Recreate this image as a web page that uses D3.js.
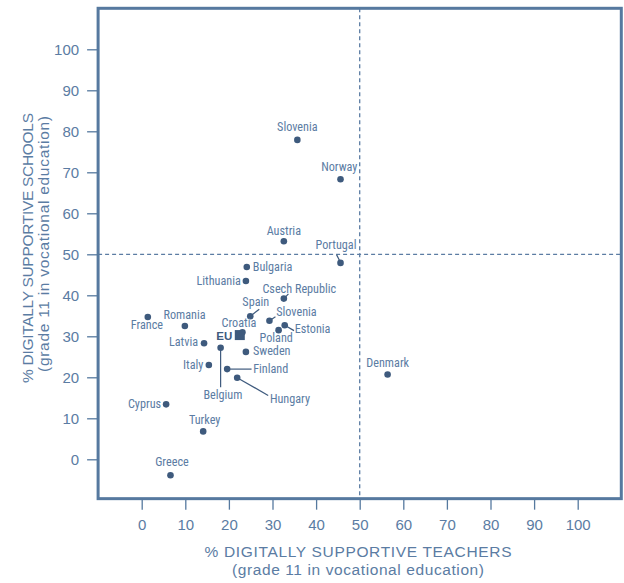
<!DOCTYPE html>
<html><head><meta charset="utf-8">
<script src="https://cdn.jsdelivr.net/npm/d3@7"></script>
<style>
html,body{margin:0;padding:0;background:#fff;}
svg{display:block;}
</style></head>
<body>
<svg id="chart" width="624" height="583"></svg>
<script>
// ---- data ----
const countries = ["Slovenia","Norway","Portugal","Austria","Bulgaria","Lithuania","Csech Republic","Spain","Slovenia","Estonia","Poland","Croatia","France","Romania","Latvia","Belgium","Sweden","Italy","Finland","Hungary","Cyprus","Turkey","Greece","Denmark"];
const teachers  = [35.7, 45.6, 45.6, 32.6, 24.1, 23.9, 32.6, 24.9, 29.3, 32.8, 31.4, 23.1, 1.4, 9.9, 14.3, 18.1, 23.9, 15.4, 19.6, 21.9, 5.6, 14.1, 6.6, 56.4];
const schools   = [77.9, 68.3, 47.9, 53.2, 46.9, 43.5, 39.2, 34.9, 33.8, 32.7, 31.5, 31.0, 34.7, 32.5, 28.3, 27.2, 26.2, 23.0, 22.0, 19.9, 13.4, 6.8, -3.9, 20.7];
const euLabel = "EU";
const euTeachers = 22.5;
const euSchools = 30.3;
const xTicks = [0,10,20,30,40,50,60,70,80,90,100];
const yTicks = [0,10,20,30,40,50,60,70,80,90,100];
const thresholdX = 50, thresholdY = 50;
const xTitle = ["% DIGITALLY SUPPORTIVE TEACHERS", "(grade 11 in vocational education)"];
const yTitle = ["% DIGITALLY SUPPORTIVE SCHOOLS", "(grade 11 in vocational education)"];

// ---- label placement (layout, separate from data) ----
const placement = {
  "Slovenia#0": {a:"middle", dx:0, dy:-9},
  "Norway": {a:"middle", dx:-1.2, dy:-8.6},
  "Portugal": {a:"middle", dx:-4.5, dy:-13.5, lead:[-1,-2.5,-4,-8.3]},
  "Austria": {a:"middle", dx:0, dy:-6.5},
  "Bulgaria": {a:"start", dx:6, dy:3.8},
  "Lithuania": {a:"end", dx:-5, dy:3.8},
  "Csech Republic": {a:"start", dx:-21.4, dy:-6, lead:[0,0,4.6,-4.7]},
  "Spain": {a:"middle", dx:5.5, dy:-10.3, lead:[0,0,9,-7]},
  "Slovenia#8": {a:"start", dx:6.7, dy:-5, lead:[0,0,6,-4]},
  "Estonia": {a:"start", dx:10, dy:8, lead:[0,0,9.3,5.4]},
  "Poland": {a:"middle", dx:-2.4, dy:12},
  "Croatia": {a:"middle", dx:-3.5, dy:-5},
  "France": {a:"middle", dx:-0.9, dy:11.7},
  "Romania": {a:"middle", dx:-0.3, dy:-7.3},
  "Latvia": {a:"end", dx:-6, dy:3},
  "Belgium": {a:"middle", dx:2.3, dy:51, lead:[0,0,0,39.4]},
  "Sweden": {a:"start", dx:7, dy:3.5},
  "Italy": {a:"end", dx:-5.4, dy:3.7},
  "Finland": {a:"start", dx:26, dy:3.7, lead:[0,0,24.4,0]},
  "Hungary": {a:"start", dx:32.7, dy:25.3, lead:[0,0,31,17.7]},
  "Cyprus": {a:"end", dx:-5, dy:3.3},
  "Turkey": {a:"middle", dx:1.5, dy:-7.6},
  "Greece": {a:"middle", dx:1.5, dy:-9.3},
  "Denmark": {a:"middle", dx:0.1, dy:-7.6}
};

// ---- styles ----
const frameColor = "#56799f";
const textColor = "#5b7ca3";
const dotColor = "#3e5a7d";
const labelFont = "'Liberation Sans Narrow','Arial Narrow','Roboto Condensed',sans-serif";
const mainFont = "'Liberation Sans',Arial,Helvetica,sans-serif";

const svg = d3.select("#chart");
const x = d3.scaleLinear().domain([0,100]).range([141.7, 577.7]);
const y = d3.scaleLinear().domain([0,100]).range([459.3, 49.3]);

const fLeft = x(-10), fRight = x(110), fTop = y(110), fBottom = y(-9.6);

// dashed threshold lines
svg.append("line")
  .attr("x1", x(thresholdX)).attr("x2", x(thresholdX))
  .attr("y1", fTop).attr("y2", fBottom)
  .attr("stroke", textColor).attr("stroke-width", 1.3).attr("stroke-dasharray", "4,3");
svg.append("line")
  .attr("x1", fLeft).attr("x2", fRight)
  .attr("y1", y(thresholdY)).attr("y2", y(thresholdY))
  .attr("stroke", textColor).attr("stroke-width", 1.3).attr("stroke-dasharray", "4,3");

// frame
svg.append("rect")
  .attr("x", fLeft).attr("y", fTop)
  .attr("width", fRight-fLeft).attr("height", fBottom-fTop)
  .attr("fill", "none").attr("stroke", frameColor).attr("stroke-width", 3);

// axes
const xAxis = d3.axisBottom(x).tickValues(xTicks).tickSize(11).tickPadding(7).tickSizeOuter(0);
const gx = svg.append("g").attr("transform", `translate(0,${fBottom})`).call(xAxis);
gx.select(".domain").remove();
gx.selectAll(".tick line").attr("stroke", frameColor).attr("stroke-width", 1.3);
gx.selectAll(".tick text").attr("fill", textColor).attr("font-family", mainFont).attr("font-size", 15)
  .attr("dy", null).attr("y", 31);

const yAxis = d3.axisLeft(y).tickValues(yTicks).tickSize(11).tickPadding(7).tickSizeOuter(0);
const gy = svg.append("g").attr("transform", `translate(${fLeft},0)`).call(yAxis);
gy.select(".domain").remove();
gy.selectAll(".tick line").attr("stroke", frameColor).attr("stroke-width", 1.3);
gy.selectAll(".tick text").attr("fill", textColor).attr("font-family", mainFont).attr("font-size", 15)
  .attr("x", -19).attr("dy", "0.35em");

// axis titles
const xt = svg.append("text").attr("fill", textColor).attr("font-family", mainFont).attr("font-size", 15.5)
  .attr("text-anchor", "middle");
xt.append("tspan").attr("x", 358).attr("y", 556.5).attr("textLength", 307).attr("lengthAdjust","spacing").text(xTitle[0]);
xt.append("tspan").attr("x", 358).attr("y", 574.5).attr("textLength", 252).attr("lengthAdjust","spacing").text(xTitle[1]);

const yt = svg.append("text").attr("fill", textColor).attr("font-family", mainFont).attr("font-size", 15.5)
  .attr("text-anchor", "middle").attr("transform", "rotate(-90)");
yt.append("tspan").attr("x", -248).attr("y", 32.5).attr("textLength", 270).attr("lengthAdjust","spacing").text(yTitle[0]);
yt.append("tspan").attr("x", -244).attr("y", 48.5).attr("textLength", 256).attr("lengthAdjust","spacing").text(yTitle[1]);

// points
const pts = countries.map((c,i) => ({name:c, key: (c==="Slovenia" ? "Slovenia#"+i : c), tx:teachers[i], sc:schools[i]}));

const gl = svg.append("g");
pts.forEach(p => {
  const pl = placement[p.key];
  if (pl && pl.lead) {
    const cx = x(p.tx), cy = y(p.sc);
    gl.append("line")
      .attr("x1", cx+pl.lead[0]).attr("y1", cy+pl.lead[1])
      .attr("x2", cx+pl.lead[2]).attr("y2", cy+pl.lead[3])
      .attr("stroke", dotColor).attr("stroke-width", 1.2);
  }
});

svg.append("g").selectAll("circle").data(pts).join("circle")
  .attr("cx", d => x(d.tx)).attr("cy", d => y(d.sc)).attr("r", 3.3)
  .attr("fill", dotColor);

svg.append("g").selectAll("text").data(pts).join("text")
  .attr("x", d => x(d.tx) + placement[d.key].dx)
  .attr("y", d => y(d.sc) + placement[d.key].dy)
  .attr("text-anchor", d => placement[d.key].a)
  .attr("fill", textColor).attr("font-family", labelFont).attr("font-size", 12.2)
  .text(d => d.name);

// EU marker
svg.append("rect")
  .attr("x", x(euTeachers)-5).attr("y", y(euSchools)-5).attr("width", 10).attr("height", 10)
  .attr("fill", dotColor);
svg.append("text")
  .attr("x", x(euTeachers)-7.5).attr("y", y(euSchools)+4.8)
  .attr("text-anchor", "end").attr("fill", dotColor)
  .attr("font-family", mainFont).attr("font-weight", "bold").attr("font-size", 11.5)
  .text(euLabel);
</script>
</body></html>
